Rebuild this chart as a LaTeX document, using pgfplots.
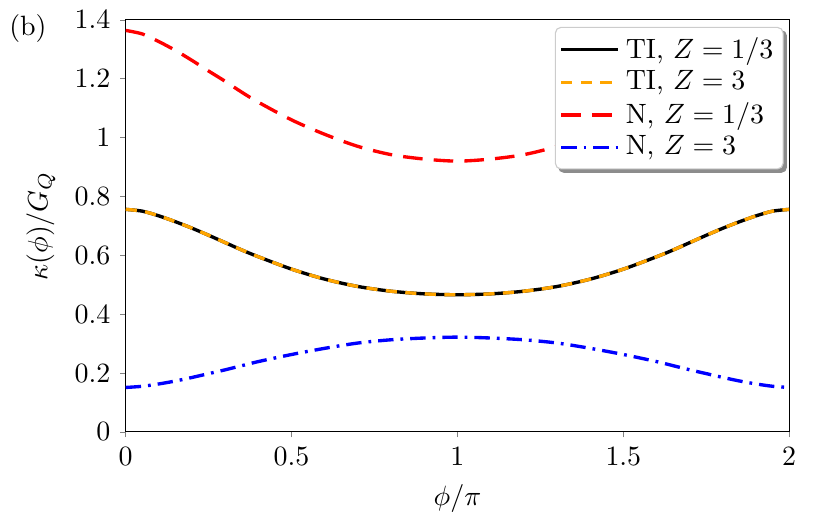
\documentclass[border=0pt]{standalone}
\usepackage{pgfplots}
\pgfplotsset{compat=1.18}
\usepackage{pgfplotstable}
\usetikzlibrary{backgrounds}
\definecolor{myorange}{RGB}{255,165,0}

\pgfplotstableread{
x ti red blue
0.00 0.756 1.364 0.151
0.05 0.750 1.352 0.155
0.10 0.734 1.326 0.163
0.15 0.714 1.296 0.173
0.20 0.692 1.262 0.185
0.25 0.668 1.226 0.198
0.30 0.643 1.191 0.211
0.35 0.618 1.154 0.225
0.40 0.595 1.120 0.239
0.50 0.553 1.060 0.263
0.60 0.519 1.011 0.284
0.70 0.494 0.970 0.302
0.80 0.478 0.942 0.313
0.90 0.469 0.927 0.319
1.00 0.466 0.920 0.322
1.10 0.469 0.927 0.319
1.20 0.478 0.942 0.313
1.30 0.494 0.970 0.302
1.40 0.519 1.011 0.284
1.50 0.553 1.060 0.263
1.60 0.595 1.120 0.239
1.65 0.618 1.154 0.225
1.70 0.643 1.191 0.211
1.75 0.668 1.226 0.198
1.80 0.692 1.262 0.185
1.85 0.714 1.296 0.173
1.90 0.734 1.326 0.163
1.95 0.750 1.352 0.155
2.00 0.756 1.364 0.151
}\datatab

\begin{document}
\begin{tikzpicture}
\begin{axis}[
  name=ax,
  scale only axis,
  width=237.5pt, height=147.5pt,
  xmin=0, xmax=2, ymin=0, ymax=1.4,
  xtick={0,0.5,1,1.5,2},
  ytick={0,0.2,0.4,0.6,0.8,1,1.2,1.4},
  xtick pos=left, ytick pos=left,
  tick align=outside,
  major tick length=2pt,
  xlabel={$\phi/\pi$},
  ylabel={$\kappa(\phi)/G_Q$},
  legend cell align=left,
  legend style={at={(1,1)}, anchor=north east, xshift=-2pt, yshift=-2.5pt,
    draw=black!20, fill=white, rounded corners=2pt,
    /tikz/name=leg,
    inner sep=1.5pt, row sep=-1pt},
  legend image code/.code={\draw[#1] (0cm,0cm) -- (0.72cm,0cm);},
]
\addplot[black, line width=1.2pt, smooth] table[x=x, y=ti] {\datatab};
\addlegendentry{TI, $Z=1/3$}
\addplot[myorange, line width=1.2pt, smooth, dash pattern=on 4pt off 3pt] table[x=x, y=ti] {\datatab};
\addlegendentry{TI, $Z=3$}
\addplot[red, line width=1.2pt, smooth, dash pattern=on 7pt off 4pt, restrict x to domain=0:1.9] table[x=x, y=red] {\datatab};
\addlegendentry{N, $Z=1/3$}
\addplot[blue, line width=1.2pt, smooth, dash pattern=on 5.5pt off 2.5pt on 1pt off 2.5pt] table[x=x, y=blue] {\datatab};
\addlegendentry{N, $Z=3$}
\end{axis}
\begin{scope}[on background layer]
\fill[black!45, rounded corners=2pt] ([shift={(1.2pt,-1.2pt)}]leg.south west) rectangle ([shift={(1.2pt,-1.2pt)}]leg.north east);
\end{scope}
\node at ([xshift=-35pt, yshift=-3pt]ax.north west) {(b)};
\path (ax.south west) ++(-44.3pt,-29.6pt) rectangle ++(296.4pt,184.2pt);
\end{tikzpicture}
\end{document}
